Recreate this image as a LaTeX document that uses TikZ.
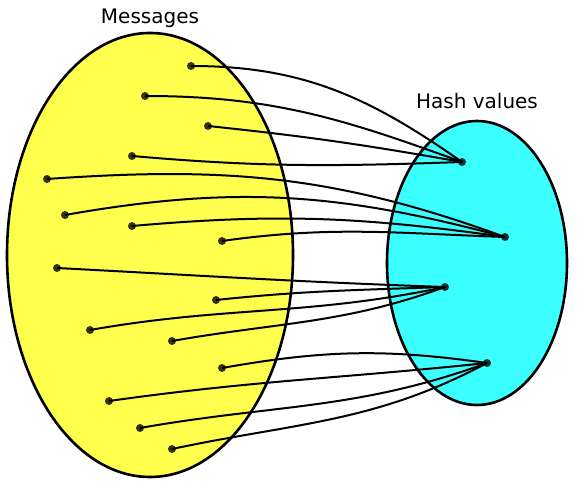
\documentclass[tikz,border=0pt]{standalone}
\usepackage{fontspec}
\setsansfont{DejaVu Sans}
\definecolor{msgyellow}{RGB}{255,255,77}
\definecolor{hashcyan}{RGB}{60,255,255}
\tikzset{
    dot/.style={circle, fill=black, fill opacity=0.8, minimum size=8pt, inner sep=0pt},
    hashline/.style={line width=2pt},
    label/.style={font=\sffamily\fontsize{20}{24}\selectfont, anchor=base}
}
\begin{document}
\begin{tikzpicture}[x=1pt, y=1pt]
        \useasboundingbox (0,0) rectangle (584,489);

        % The two sets
        \draw [line width=2.6pt, fill=msgyellow] (150,234) ellipse [x radius=143, y radius=222];
        \draw [line width=2.6pt, fill=hashcyan] (477,226) ellipse [x radius=90, y radius=142];
        \node [label] (msglabel) at (150,465) {Messages};
        \node [label] (hashlabel) at (477,380) {Hash values};

        % Messages
        \node [dot] (m1) at (191,423) {};
        \node [dot] (m2) at (145,393) {};
        \node [dot] (m3) at (208,363) {};
        \node [dot] (m4) at (132,333) {};
        \node [dot] (m5) at (47,310) {};
        \node [dot] (m6) at (65,274) {};
        \node [dot] (m7) at (132,263) {};
        \node [dot] (m8) at (222,248) {};
        \node [dot] (m9) at (57,221) {};
        \node [dot] (m10) at (216,189) {};
        \node [dot] (m11) at (90,159) {};
        \node [dot] (m12) at (172,148) {};
        \node [dot] (m13) at (222,121) {};
        \node [dot] (m14) at (109,88) {};
        \node [dot] (m15) at (140,61) {};
        \node [dot] (m16) at (172,40) {};

        % Hash values
        \node [dot] (h1) at (462,327) {};
        \node [dot] (h2) at (505,252) {};
        \node [dot] (h3) at (445,202) {};
        \node [dot] (h4) at (487,126) {};

        % Messages mapped to hash values
        \draw [hashline] (m1.center) to [out=0, in=145] (h1.center);
        \draw [hashline] (m2.center) to [out=0, in=160] (h1.center);
        \draw [hashline] (m3.center) to [out=-6, in=170] (h1.center);
        \draw [hashline] (m4.center) to [out=-5, in=182] (h1.center);

        \draw [hashline] (m5.center) to [out=4, in=160] (h2.center);
        \draw [hashline] (m6.center) to [out=10, in=165] (h2.center);
        \draw [hashline] (m7.center) to [out=5, in=172] (h2.center);
        \draw [hashline] (m8.center) to [out=8, in=178] (h2.center);

        \draw [hashline] (m9.center) to [out=-3, in=178] (h3.center);
        \draw [hashline] (m10.center) to [out=6, in=182] (h3.center);
        \draw [hashline] (m11.center) to [out=10, in=192] (h3.center);
        \draw [hashline] (m12.center) to [out=10, in=200] (h3.center);

        \draw [hashline] (m13.center) to [out=10, in=172] (h4.center);
        \draw [hashline] (m14.center) to [out=8, in=186] (h4.center);
        \draw [hashline] (m15.center) to [out=10, in=200] (h4.center);
        \draw [hashline] (m16.center) to [out=12, in=208] (h4.center);
    \end{tikzpicture}
\end{document}
